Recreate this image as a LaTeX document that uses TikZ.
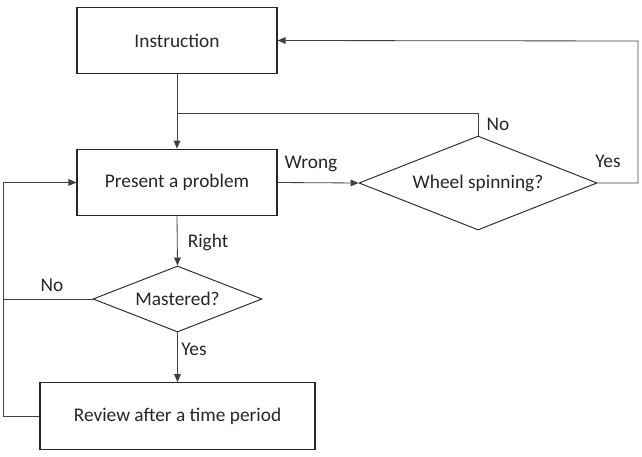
\documentclass[tikz,border=0pt]{standalone}
\usepackage{fontspec}
\setmainfont{Carlito}
\usetikzlibrary{shapes.geometric,arrows.meta}
\begin{document}
\begin{tikzpicture}[
	x=0.03cm, y=-0.03cm,
	every node/.style={font=\fontsize{16.5}{18}\selectfont, text=black!85},
	stepbox/.style={shape=rectangle, draw=black!85, line width=0.9pt, minimum width=6cm, minimum height=2cm},
	decision/.style={shape=diamond, draw=black!85, line width=0.8pt, inner sep=0pt},
	line/.style={draw=black!75, line width=0.7pt},
	arrow/.style={line, -{Triangle[length=2.4mm, width=2mm]}},
]
\useasboundingbox (0,0) rectangle (642,457);
% boxes
\node[stepbox] (instr) at (177,40.5) {Instruction};
\node[stepbox] (prob) at (177,182.5) {Present a problem};
\node[stepbox, minimum width=8.25cm] (rev) at (177.5,416) {Review after a time period};
% decisions
\node[decision, aspect=2.53, minimum width=7.14cm, minimum height=2.82cm] (wheel) at (478,183) {Wheel spinning?};
\node[decision, aspect=2.56, minimum width=5.07cm, minimum height=1.98cm] (mast) at (177.5,299) {Mastered?};
% free ends
\coordinate (join) at (177,113);
\coordinate (rt) at (638,41);
\coordinate (lft) at (3,416);
% connectors
\draw[arrow] (instr.south) -- (prob.north);
\draw[line] (wheel.north) |- (join);
\draw[arrow] (prob.east) -- (wheel.west);
\draw[arrow] (wheel.east) -| (rt) -- (instr.east);
\draw[arrow] (prob.south) -- (mast.north);
\draw[arrow] (mast.south) -- (rev.north);
\draw[line] (mast.west) -- (mast.west -| lft);
\draw[arrow] (rev.west) -- (lft) |- (prob.west);
% labels
\node (wrong) at (311,164) {Wrong};
\node (wno) at (498,124) {No};
\node (wyes) at (608,161) {Yes};
\node (right) at (208,242) {Right};
\node (mno) at (52,285) {No};
\node (myes) at (194,349) {Yes};
\end{tikzpicture}
\end{document}
